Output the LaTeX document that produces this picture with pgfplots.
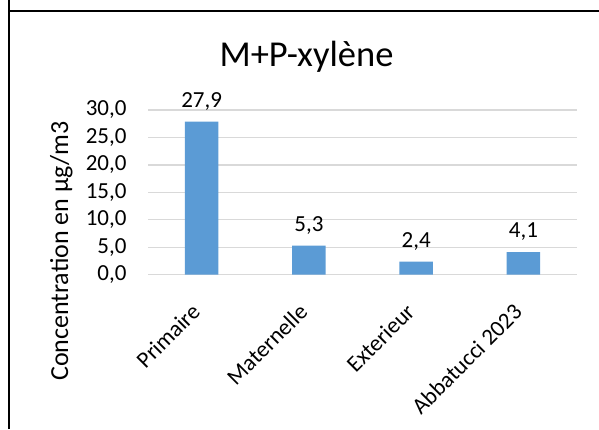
\documentclass[border=0pt]{standalone}
\usepackage{pgfplots}
\pgfplotsset{compat=1.18}
\usepackage{fontspec}
\setmainfont{Carlito}
\definecolor{barblue}{HTML}{5B9BD5}
\definecolor{gridgray}{HTML}{D9D9D9}
\begin{document}
\begin{tikzpicture}
\useasboundingbox (0pt,0pt) rectangle (599pt,429pt);
\draw[line width=2pt] (8.5pt,0pt) -- (8.5pt,429pt);
\draw[line width=2pt] (8.5pt,418pt) -- (599pt,418pt);
\node[anchor=base, font=\fontsize{36.5}{42}\selectfont] at (306.5pt,362.3pt) {M+P-xylène};
\node[rotate=90, anchor=base, font=\fontsize{26}{30}\selectfont] at (68pt,178pt) {Concentration en µg/m3};
\begin{axis}[
  at={(148pt,154.3pt)}, anchor=south west,
  scale only axis, width=429pt, height=164.7pt,
  xmin=-0.5, xmax=3.5, ymin=0, ymax=30,
  ybar, bar width=33.7pt,
  axis line style={draw=none},
  major tick length=0pt,
  ymajorgrids, grid style={gridgray, line width=1.3pt},
  ytick={0,5,10,15,20,25,30},
  xtick={0,1,2,3},
  xticklabels={Primaire,Maternelle,Exterieur,Abbatucci 2023},
  /pgf/number format/assume math mode=true,
  yticklabel style={font=\fontsize{23}{27}\selectfont, /pgf/number format/.cd, fixed, fixed zerofill, precision=1, use comma},
  yticklabel shift=18pt,
  x tick label style={font=\fontsize{23}{27}\selectfont, rotate=45, anchor=north east, xshift=-24pt, yshift=-8pt},
  nodes near coords,
  nodes near coords style={font=\fontsize{23}{27}\selectfont, anchor=base, yshift=14.5pt, /pgf/number format/.cd, fixed, fixed zerofill, precision=1, use comma},
]
\addplot[fill=barblue, draw=none] coordinates {(0,27.9) (1,5.3) (2,2.4) (3,4.1)};
\end{axis}
\end{tikzpicture}
\end{document}
